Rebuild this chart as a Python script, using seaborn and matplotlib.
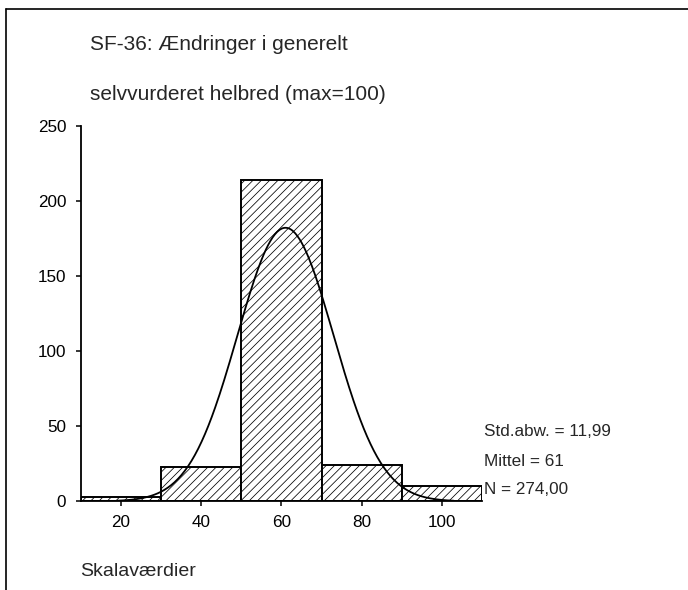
"""
plot.py
SF-36 histogram with normal curve
"""

import numpy as np
import pandas as pd
import matplotlib
matplotlib.use("Agg")
import matplotlib.pyplot as plt
from matplotlib.lines import Line2D
import seaborn as sns

# data
bin_edges = [10, 30, 50, 70, 90, 110]
bin_counts = [3, 23, 214, 24, 10]
x_ticks = [20, 40, 60, 80, 100]
y_ticks = [0, 50, 100, 150, 200, 250]
std_dev = 11.99
mean_val = 61
n_obs = 274

title_lines = ["SF-36: Ændringer i generelt", "selvvurderet helbred (max=100)"]
x_label = "Skalaværdier"
stats_lines = ["Std.abw. = 11,99", "Mittel = 61", "N = 274,00"]

sns.set_theme(style="ticks")
plt.rcParams["font.family"] = ["Liberation Sans", "DejaVu Sans"]
plt.rcParams["hatch.linewidth"] = 0.55
plt.rcParams["hatch.color"] = "black"

df = pd.DataFrame({
    "mid": [(a + b) / 2 for a, b in zip(bin_edges[:-1], bin_edges[1:])],
    "count": bin_counts,
})

fig = plt.figure(figsize=(6.88, 5.90), dpi=100)
ax = fig.add_axes([0.1177, 0.1503, 0.5829, 0.6357])

sns.histplot(
    data=df, x="mid", weights="count", bins=bin_edges,
    stat="count", ax=ax, element="bars",
    facecolor="white", edgecolor="black", linewidth=1.4,
    hatch="////", alpha=1,
)

# normal curve scaled to counts
width = bin_edges[1] - bin_edges[0]
xs = np.linspace(mean_val - 3.5 * std_dev, mean_val + 3.5 * std_dev, 300)
ys = n_obs * width / (std_dev * np.sqrt(2 * np.pi)) * np.exp(-0.5 * ((xs - mean_val) / std_dev) ** 2)
sns.lineplot(x=xs, y=ys, ax=ax, color="black", linewidth=1.3)

ax.set_xlim(bin_edges[0], bin_edges[-1])
ax.set_ylim(y_ticks[0], y_ticks[-1])
ax.set_xticks(x_ticks)
ax.set_yticks(y_ticks)
ax.set_xlabel("")
ax.set_ylabel("")
ax.grid(False)
sns.despine(ax=ax)
for side in ["left", "bottom"]:
    ax.spines[side].set_linewidth(1.3)
    ax.spines[side].set_color("black")
ax.tick_params(axis="both", direction="out", length=3.6, width=1.1,
               color="black", labelsize=12.3, labelcolor="black")
ax.tick_params(axis="y", pad=7)
ax.tick_params(axis="x", pad=6)

# titles
fig.text(90 / 688, 1 - 45 / 590, title_lines[0], fontsize=15, va="center", ha="left")
fig.text(90 / 688, 1 - 95 / 590, title_lines[1], fontsize=15, va="center", ha="left")

# x label
fig.text(80 / 688, 1 - 571 / 590, x_label, fontsize=14, va="center", ha="left")

# stats text
for line, ypix in zip(stats_lines, [432, 461, 489]):
    fig.text(484 / 688, 1 - ypix / 590, line, fontsize=12.3, va="center", ha="left")

# outer frame (top and left visible)
fig.add_artist(Line2D([6 / 688, 1.0], [1 - 9 / 590, 1 - 9 / 590],
                      transform=fig.transFigure, color="black", linewidth=1.2))
fig.add_artist(Line2D([6 / 688, 6 / 688], [0.0, 1 - 9 / 590],
                      transform=fig.transFigure, color="black", linewidth=1.2))

fig.savefig("out.png", dpi=100, facecolor="white")
